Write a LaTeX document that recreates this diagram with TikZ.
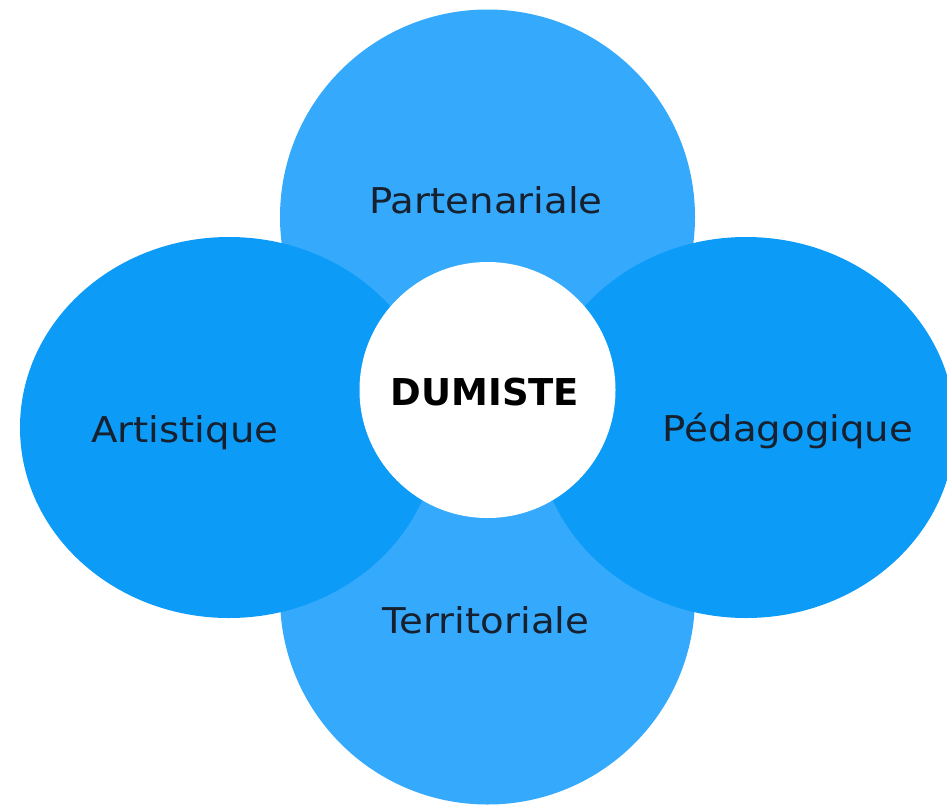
\documentclass[tikz,border=0pt]{standalone}
\usepackage{fontspec}
\setmainfont{DejaVu Sans}
\usepackage{graphicx}
\definecolor{lightpetal}{HTML}{35AAFD}
\definecolor{darkpetal}{HTML}{0C9BF7}
\definecolor{labelink}{HTML}{16202E}
\tikzset{
  lbl/.style={anchor=base, text=labelink, inner sep=0pt, font=\fontsize{35.5}{40}\selectfont},
  ctr/.style={anchor=base, text=black, inner sep=0pt, font=\fontsize{37}{42}\selectfont\bfseries},
}
\newcommand{\wide}[1]{\scalebox{1.09}[1]{#1}}
\begin{document}
\begin{tikzpicture}[x=1pt,y=-1pt]
\useasboundingbox (0,0) rectangle (947,806);
\clip (0,0) rectangle (947,806);
\fill[white] (0,0) rectangle (947,806);
% top and bottom petals
\fill[lightpetal] (487.5,217) circle (207.5);
\fill[lightpetal] (487.5,597) circle (207.5);
% left and right petals
\fill[darkpetal] (229,427.5) ellipse [x radius=209, y radius=190.5];
\fill[darkpetal] (746,427.5) ellipse [x radius=209, y radius=190.5];
% centre
\fill[white] (487.5,390) circle (128);
% labels
\node[lbl] (part) at (486,213) {\wide{Partenariale}};
\node[lbl] (terr) at (486,633) {\wide{Territoriale}};
\node[lbl] (arti) at (185,442) {\wide{Artistique}};
\node[lbl] (peda) at (788,441) {\wide{Pédagogique}};
\node[ctr] (dumi) at (485,405) {DUMISTE};
\end{tikzpicture}
\end{document}
